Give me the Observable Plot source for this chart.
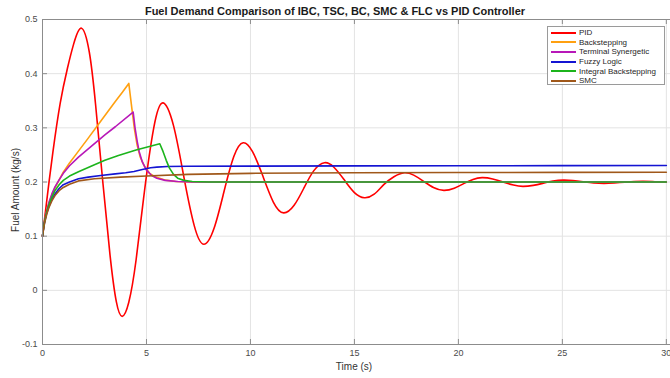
<!DOCTYPE html>
<html>
<head>
<meta charset="utf-8">
<script src="https://cdn.jsdelivr.net/npm/d3@7"></script>
<script src="https://cdn.jsdelivr.net/npm/@observablehq/plot@0.6"></script>
<style>
  html, body { margin: 0; padding: 0; background: #fff; }
  #wrap { position: relative; width: 670px; height: 378px; overflow: hidden; font-family: "Liberation Sans", Arial, sans-serif; }
  #title { position: absolute; z-index: 2; left: 0; width: 670px; top: 5px; text-align: center; font-weight: bold; font-size: 11px; line-height: 13px; color: #1a1a1a; }
  #chart { position: absolute; left: 0; top: 14px; width: 680px; }
  #chart svg { max-width: none !important; background: transparent !important; }
  #xlabel { position: absolute; left: 304px; width: 100px; top: 361px; text-align: center; font-size: 10px; color: #333; }
  #ylabel { position: absolute; left: 15px; top: 190px; font-size: 10px; color: #333; transform: translate(-50%, -50%) rotate(-90deg); white-space: nowrap; }
  #legend { position: absolute; left: 547px; top: 26px; width: 118px; height: 59px; border: 1px solid #9a9a9a; background: #fff; box-sizing: border-box; padding-top: 1px; }
  .row { height: 9.6px; display: flex; align-items: center; font-size: 8px; color: #262626; }
  .swatch { width: 25px; height: 2px; margin-left: 3px; margin-right: 3px; }
</style>
</head>
<body>
<div id="wrap">
  <div id="chart"></div>
  <div id="title"></div>
  <div id="xlabel"></div>
  <div id="ylabel"></div>
  <div id="legend"></div>
</div>
<script>
// Axis ticks
const xTicks = [0, 5, 10, 15, 20, 25, 30];
const yTicks = [-0.1, 0, 0.1, 0.2, 0.3, 0.4, 0.5];
const yTickLabels = ["-0.1", "0", "0.1", "0.2", "0.3", "0.4", "0.5"];

const titleText = "Fuel Demand Comparison of IBC, TSC, BC, SMC & FLC vs PID Controller";
const xLabelText = "Time (s)";
const yLabelText = "Fuel Amount (kg/s)";

// Series names and colours
const seriesNames = ["PID", "Backstepping", "Terminal Synergetic", "Fuzzy Logic", "Integral Backstepping", "SMC"];
const seriesColors = ["#ff0000", "#ffa010", "#b818b8", "#1414d2", "#1cb41c", "#a0581a"];

// PID controller response (time in s, fuel in kg/s)
const pidT = [0, 0.25, 0.5, 0.85, 1.2, 1.5, 1.875, 2.25, 2.55, 2.9, 3.25, 3.55, 3.83, 4.15, 4.5, 4.9, 5.35, 5.78, 6.3, 6.8, 7.3, 7.76, 8.25, 8.72, 9.2, 9.65, 10.1, 10.56, 11.1, 11.6, 12.1, 12.56, 13.05, 13.56, 14.0, 14.49, 15.0, 15.48, 15.95, 16.41, 16.9, 17.4, 17.85, 18.33, 18.8, 19.3, 19.8, 20.25, 20.7, 21.14, 21.65, 22.18, 22.65, 23.1, 23.6, 24.05, 24.55, 25.05, 25.5, 26.0, 26.5, 27.0, 27.5, 28.0, 28.45, 28.9, 29.45, 30];
const pidV = [0.1, 0.18, 0.255, 0.345, 0.41, 0.455, 0.484, 0.44, 0.344, 0.2, 0.064, -0.021, -0.048, -0.022, 0.056, 0.182, 0.3, 0.346, 0.304, 0.209, 0.119, 0.085, 0.1145, 0.181, 0.247, 0.2725, 0.256, 0.2146, 0.163, 0.143, 0.157, 0.188, 0.221, 0.2356, 0.2276, 0.2049, 0.1805, 0.171, 0.1775, 0.1951, 0.2097, 0.217, 0.2127, 0.2013, 0.1898, 0.1845, 0.1885, 0.197, 0.2048, 0.208, 0.2056, 0.1995, 0.1944, 0.192, 0.1938, 0.1975, 0.2017, 0.2035, 0.2026, 0.2005, 0.1984, 0.1975, 0.1982, 0.1995, 0.2009, 0.2015, 0.2005, 0.1995];

// Backstepping
const bsT = [0, 0.05, 0.1, 0.2, 0.3, 0.45, 0.6, 0.8, 1.0, 1.3, 1.73, 2.2, 2.63, 3.1, 3.51, 3.85, 4.15, 4.3, 4.42, 4.55, 4.7, 4.9, 5.15, 5.45, 5.85, 6.4, 7.2, 30];
const bsV = [0.1, 0.116, 0.128, 0.146, 0.16, 0.176, 0.189, 0.204, 0.218, 0.235, 0.257, 0.281, 0.3035, 0.328, 0.349, 0.366, 0.382, 0.335, 0.298, 0.268, 0.246, 0.229, 0.216, 0.209, 0.204, 0.201, 0.2, 0.2];

// Terminal Synergetic
const tsT = [0, 0.05, 0.1, 0.2, 0.3, 0.45, 0.6, 0.8, 1.0, 1.3, 1.73, 2.2, 3.0, 3.5, 4.36, 4.45, 4.55, 4.65, 4.8, 5.0, 5.25, 5.5, 5.9, 6.5, 7.2, 30];
const tsV = [0.1, 0.116, 0.128, 0.146, 0.161, 0.178, 0.191, 0.204, 0.216, 0.23, 0.246, 0.261, 0.287, 0.302, 0.329, 0.3, 0.276, 0.256, 0.237, 0.222, 0.212, 0.207, 0.203, 0.201, 0.2, 0.2];

// Fuzzy Logic
const flT = [0, 0.05, 0.1, 0.2, 0.3, 0.45, 0.6, 0.8, 1.0, 1.3, 1.73, 2.2, 2.8, 3.5, 4.0, 4.4, 4.8, 5.2, 5.5, 6.0, 7.0, 10, 15, 20, 25, 30];
const flV = [0.1, 0.114, 0.126, 0.142, 0.154, 0.168, 0.178, 0.188, 0.195, 0.2, 0.206, 0.209, 0.212, 0.215, 0.217, 0.2195, 0.223, 0.2263, 0.2275, 0.2285, 0.229, 0.2293, 0.2297, 0.23, 0.2302, 0.2305];

// Integral Backstepping
const ibT = [0, 0.05, 0.1, 0.2, 0.3, 0.45, 0.6, 0.8, 1.0, 1.3, 1.73, 2.5, 3.0, 3.65, 4.5, 5.0, 5.64, 5.8, 5.95, 6.1, 6.3, 6.5, 6.8, 7.2, 8.0, 30];
const ibV = [0.1, 0.115, 0.127, 0.144, 0.157, 0.172, 0.184, 0.195, 0.203, 0.211, 0.219, 0.232, 0.24, 0.249, 0.259, 0.264, 0.2706, 0.256, 0.24, 0.226, 0.214, 0.207, 0.203, 0.201, 0.2, 0.2];

// SMC
const smT = [0, 0.05, 0.1, 0.2, 0.3, 0.45, 0.6, 0.8, 1.0, 1.3, 1.73, 2.5, 3.75, 5.0, 7.0, 10, 15, 20, 25, 30];
const smV = [0.1, 0.113, 0.124, 0.14, 0.152, 0.165, 0.175, 0.184, 0.19, 0.196, 0.202, 0.206, 0.209, 0.211, 0.214, 0.216, 0.217, 0.2175, 0.2178, 0.218];

const series = [
  {t: pidT, v: pidV, curve: "natural"},
  {t: bsT, v: bsV, curve: "linear"},
  {t: tsT, v: tsV, curve: "linear"},
  {t: flT, v: flV, curve: "linear"},
  {t: ibT, v: ibV, curve: "linear"},
  {t: smT, v: smV, curve: "linear"}
];

const W = 680, H = 364, mT = 5, mB = 34, mL = 42, mR = 10;
const innerH = H - mT - mB, innerW = W - mL - mR;
const tickLen = 5;
const axisGray = "#8c8c8c";

const chart = Plot.plot({
  width: W, height: H,
  marginTop: mT, marginBottom: mB, marginLeft: mL, marginRight: mR,
  x: {domain: [0, 30.2]},
  y: {domain: [-0.1, 0.5]},
  style: {fontFamily: "'Liberation Sans', Arial, sans-serif", fontSize: "9px", color: "#4a4a4a", background: "transparent", maxWidth: "none"},
  marks: [
    Plot.gridX(xTicks, {stroke: "#e3e3e3", strokeOpacity: 1}),
    Plot.gridY(yTicks, {stroke: "#e3e3e3", strokeOpacity: 1}),
    Plot.axisX(xTicks, {tickSize: 0, tickPadding: 5, label: null, tickFormat: d => String(d)}),
    Plot.axisY(yTicks, {tickSize: 0, tickPadding: 5, label: null, tickFormat: d => yTickLabels[yTicks.indexOf(d)]}),
    // inward tick marks on bottom, top and left edges
    Plot.ruleX(xTicks, {stroke: axisGray, insetTop: innerH - tickLen}),
    Plot.ruleX(xTicks, {stroke: axisGray, insetBottom: innerH - tickLen}),
    Plot.ruleY(yTicks, {stroke: axisGray, insetRight: innerW - tickLen}),
    ...series.map((s, i) => Plot.line(s.v, {
      x: s.t, y: s.v, stroke: seriesColors[i], strokeWidth: 1.6, curve: s.curve
    })),
    Plot.frame({stroke: axisGray})
  ]
});
document.getElementById("chart").appendChild(chart);

document.getElementById("title").textContent = titleText;
document.getElementById("xlabel").textContent = xLabelText;
document.getElementById("ylabel").textContent = yLabelText;

const legend = document.getElementById("legend");
seriesNames.forEach((name, i) => {
  const row = document.createElement("div");
  row.className = "row";
  const sw = document.createElement("span");
  sw.className = "swatch";
  sw.style.background = seriesColors[i];
  const label = document.createElement("span");
  label.textContent = name;
  row.appendChild(sw);
  row.appendChild(label);
  legend.appendChild(row);
});
</script>
</body>
</html>
